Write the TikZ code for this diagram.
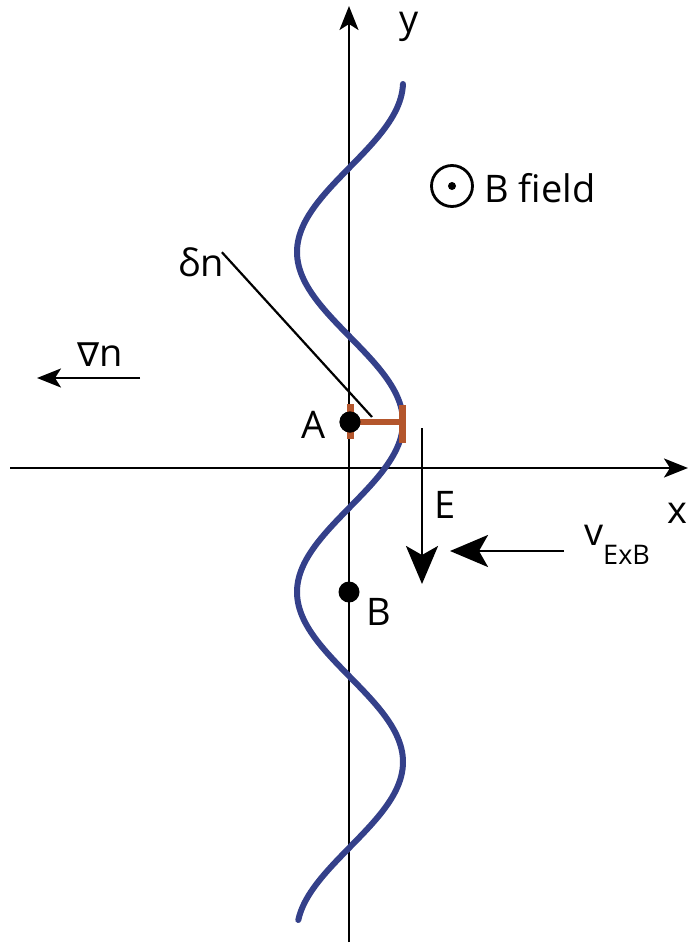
\documentclass[tikz,border=0pt]{standalone}
\usepackage{fontspec}
\setmainfont{Open Sans}
\newfontfamily\dejavu{DejaVu Sans}
\usetikzlibrary{arrows.meta}
\definecolor{wave}{HTML}{34408A}
\definecolor{rust}{HTML}{B4562C}
\tikzset{
  ax/.style={line width=2.4pt,-{Stealth[length=24pt,width=19pt,inset=6pt]}},
  bigarrow/.style={line width=2.8pt,-{Stealth[length=38pt,width=32pt,inset=9pt]}},
  lbl/.style={font=\fontsize{38}{44}\selectfont,inner sep=0pt},
  dot/.style={circle,fill=black,minimum size=21pt,inner sep=0pt},
}
\begin{document}
\begin{tikzpicture}[x=1pt,y=-1pt]
\useasboundingbox (0,0) rectangle (688,945);
% axes
\coordinate (ybot) at (349,942);
\coordinate (ytop) at (349,6);
\coordinate (xl) at (10,468);
\coordinate (xr) at (688,468);
\draw[ax] (ybot) -- (ytop);
\draw[ax] (xl) -- (xr);
\node[lbl,anchor=north] (ylab) at (409,12) {y};
\node[lbl,anchor=east] (xlab) at (688,513) {x};
% wave
\draw[wave,line width=6pt,line cap=round] plot[domain=84:920,samples=240,smooth] ({350+53*cos((\x-82)*1.0588235)},\x);
% delta n marker
\coordinate (rA1) at (350,404);
\coordinate (rA2) at (350,439);
\coordinate (rT1) at (402,405);
\coordinate (rT2) at (402,443);
\draw[rust,line width=7pt] (rA1) -- (rA2);
\draw[rust,line width=7pt] (rT1) -- (rT2);
\node[dot] (A) at (350,422) {};
\coordinate (rTm) at (402,422);
\draw[rust,line width=6pt] (A.center) -- (rTm);
\node[dot] (A2) at (350,422) {};
\node[lbl] (Alab) at (314,425) {A};
\node[dot] (B) at (349,592) {};
\node[lbl] (Blab) at (379,612) {B};
% delta n label
\node[lbl] (dn) at (201,262) {δn};
\coordinate (dnend) at (372,417);
\draw[line width=2.2pt] (dn.north east) ++(-2,5) -- (dnend);
% grad n
\node[lbl] (gn) at (100,355) {{\dejavu\fontsize{33}{38}\selectfont ∇}n};
\coordinate (g1) at (140,378);
\coordinate (g2) at (37,378);
\draw[line width=2.4pt,-{Stealth[length=24pt,width=19pt,inset=6pt]}] (g1) -- (g2);
% B field
\node[circle,draw,line width=2.8pt,minimum size=41pt,inner sep=0pt] (bc) at (452,186) {};
\fill (bc.center) circle (4pt);
\node[lbl,anchor=west] (bf) at (484,188) {B field};
% E field
\coordinate (e1) at (422,428);
\coordinate (e2) at (422,584);
\draw[bigarrow] (e1) -- (e2);
\node[lbl] (El) at (445,505) {E};
% v ExB
\coordinate (v1) at (564,551);
\coordinate (v2) at (450,551);
\draw[bigarrow] (v1) -- (v2);
\node[lbl,anchor=west] (vl) at (584,545) {v\raisebox{-0.5em}{\fontsize{27}{30}\selectfont ExB}};
\end{tikzpicture}
\end{document}
